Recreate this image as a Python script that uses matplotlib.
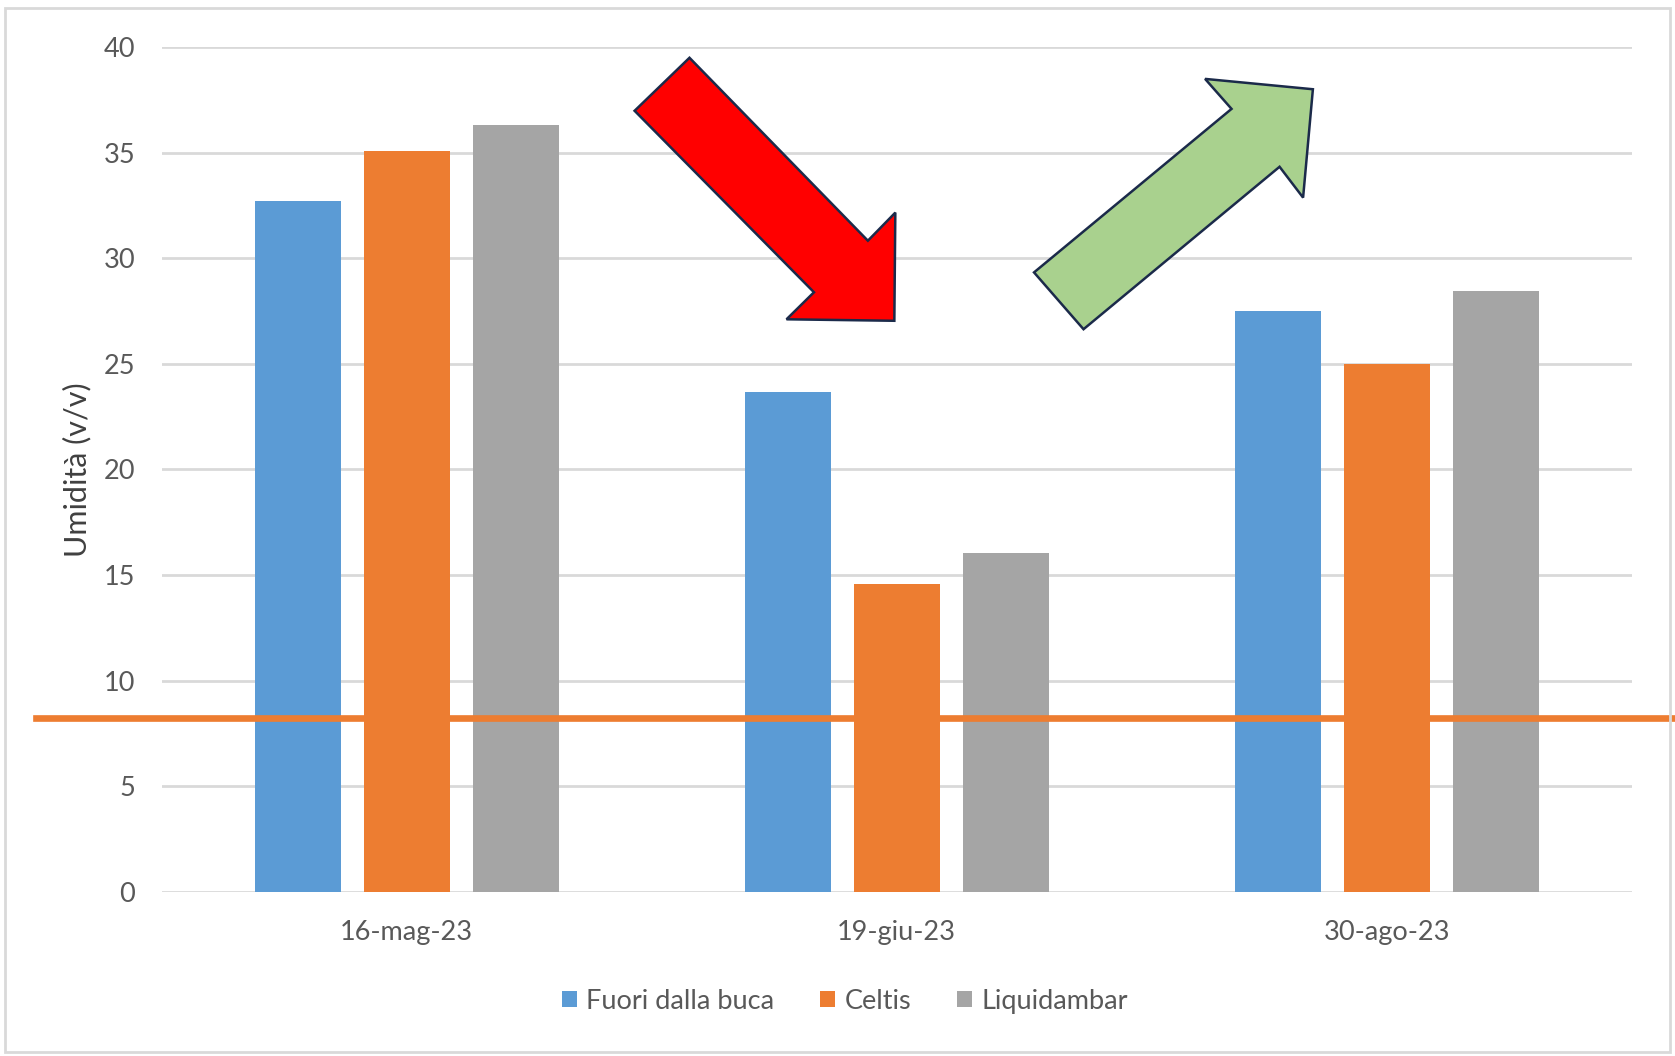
import numpy as np
import matplotlib
matplotlib.use("Agg")
import matplotlib.pyplot as plt
from matplotlib.patches import Polygon, Rectangle

plt.rcParams['font.family'] = ['Lato', 'DejaVu Sans']

# dati
date = ['16-mag-23', '19-giu-23', '30-ago-23']
fuori_buca = [32.7, 23.65, 27.5]
celtis = [35.1, 14.6, 25.0]
liquidambar = [36.3, 16.05, 28.45]
soglia = 8.25

serie = ['Fuori dalla buca', 'Celtis', 'Liquidambar']
colori = ['#5B9BD5', '#ED7D31', '#A5A5A5']

# frecce (coordinate nel sistema dei dati)
freccia_giu = [(0.577, 39.49), (0.465, 36.98), (0.831, 28.39), (0.775, 27.11),
               (0.995, 27.04), (0.997, 32.16), (0.941, 30.83)]
freccia_su = [(1.629, 38.49), (1.849, 38.00), (1.829, 32.87), (1.781, 34.33),
              (1.381, 26.64), (1.280, 29.33), (1.683, 37.07)]

fig = plt.figure(figsize=(16.75, 10.56), dpi=100)
ax = fig.add_axes([0.0965, 0.1553, 0.8778, 0.8002])

x = np.arange(len(date))
larghezza = 0.175
passo = 0.2225
for i, (nome, valori) in enumerate(zip(serie, [fuori_buca, celtis, liquidambar])):
    ax.bar(x + (i - 1) * passo, valori, width=larghezza, color=colori[i],
           label=nome, zorder=2)

ax.set_xlim(-0.5, 2.5)
ax.set_ylim(0, 40)
ax.set_yticks(np.arange(0, 41, 5))
ax.set_xticks(x)
ax.set_xticklabels(date)
ax.yaxis.grid(True, color='#D9D9D9', linewidth=2, zorder=0)
ax.set_axisbelow(True)
for s in ax.spines.values():
    s.set_visible(False)
ax.tick_params(axis='both', length=0, labelsize=19.5, colors='#595959')
ax.tick_params(axis='y', pad=19)
ax.tick_params(axis='x', pad=20)
ax.set_ylabel('Umidità (v/v)', fontsize=22, color='#404040', labelpad=9)

# linea di soglia
ax.axhline(soglia, xmin=-0.0854, xmax=1.03, color='#ED7D31', linewidth=4.8,
           clip_on=False, zorder=3)

ax.add_patch(Polygon(freccia_giu, closed=True, facecolor='#FF0000',
                     edgecolor='#1B2A4A', linewidth=1.8, clip_on=False, zorder=4))
ax.add_patch(Polygon(freccia_su, closed=True, facecolor='#A9D18E',
                     edgecolor='#1B2A4A', linewidth=1.8, clip_on=False, zorder=4))

leg = fig.legend(loc='center', bbox_to_anchor=(0.5045, 0.052), ncol=3, frameon=False,
                 fontsize=19.5, handlelength=0.55, handleheight=0.55,
                 handletextpad=0.35, columnspacing=1.7, labelcolor='#595959')

# cornice del grafico
fig.patches.append(Rectangle((0.003, 0.004), 0.994, 0.988, transform=fig.transFigure,
                             fill=False, edgecolor='#D9D9D9', linewidth=2))

fig.savefig('out.png', dpi=100)
